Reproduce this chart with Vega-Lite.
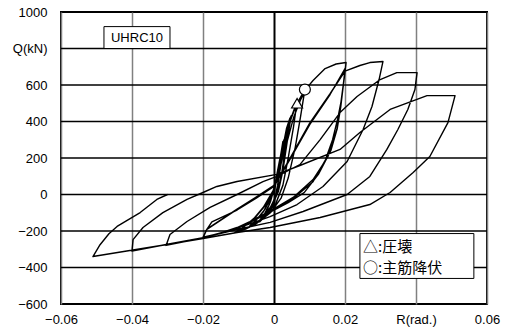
{
  "$schema": "https://vega.github.io/schema/vega-lite/v6.json",
  "width": 426,
  "height": 292,
  "autosize": "none",
  "padding": {"left": 61, "top": 12, "right": 22, "bottom": 32},
  "background": "white",
  "config": {
    "view": {"stroke": "black", "strokeWidth": 2},
    "font": "Liberation Sans"
  },
  "encoding": {
    "x": {
      "field": "R", "type": "quantitative",
      "scale": {"domain": [-0.06, 0.06], "nice": false, "zero": false},
      "axis": {
        "title": null,
        "values": [-0.06, -0.04, -0.02, 0, 0.02, 0.04, 0.06],
        "labelExpr": "abs(datum.value-0.04)<1e-9 ? 'R(rad.)' : (datum.value==0 ? '0' : format(datum.value,'.2f'))",
        "labelFont": "Liberation Sans",
        "labelFontSize": 13,
        "labelColor": "black",
        "labelPadding": 9,
        "labelFlush": false,
        "labelOverlap": false,
        "domain": false,
        "ticks": false,
        "grid": true,
        "gridColor": {"condition": {"test": "datum.value === 0", "value": "black"}, "value": "#808080"},
        "gridWidth": {"condition": {"test": "datum.value === 0", "value": 2}, "value": 1.5},
        "gridOpacity": 1
      }
    },
    "y": {
      "field": "Q", "type": "quantitative",
      "scale": {"domain": [-600, 1000], "nice": false, "zero": false},
      "axis": {
        "title": null,
        "values": [-600, -400, -200, 0, 200, 400, 600, 800, 1000],
        "labelExpr": "datum.value==800 ? 'Q(kN)' : (datum.value==0 ? '0' : format(datum.value,'d'))",
        "labelFont": "Liberation Sans",
        "labelFontSize": 13,
        "labelColor": "black",
        "labelPadding": 14,
        "labelFlush": false,
        "labelOverlap": false,
        "domain": false,
        "ticks": false,
        "grid": false
      }
    }
  },
  "layer": [
    {
      "data": {"values": [
        {"Q": -400, "R": -0.06, "R2": 0.06},
        {"Q": -200, "R": -0.06, "R2": 0.06},
        {"Q": 0, "R": -0.06, "R2": 0.06},
        {"Q": 200, "R": -0.06, "R2": 0.06},
        {"Q": 400, "R": -0.06, "R2": 0.06},
        {"Q": 600, "R": -0.06, "R2": 0.06},
        {"Q": 800, "R": -0.06, "R2": 0.06}
      ]},
      "mark": {"type": "rule", "color": "black", "strokeWidth": 1.4, "opacity": 1},
      "encoding": {
        "x2": {"field": "R2"}
      }
    },
    {
      "data": {"values": [
        {"R":0,"Q":0},{"R":0.001,"Q":120},{"R":0.002,"Q":230},{"R":0.0025,"Q":290},
        {"R":0.0018,"Q":150},{"R":0.001,"Q":40},{"R":0,"Q":-50},{"R":-0.002,"Q":-110},{"R":-0.0035,"Q":-140},
        {"R":-0.0025,"Q":-110},{"R":-0.001,"Q":-40},{"R":0,"Q":30},{"R":0.0015,"Q":180},{"R":0.0028,"Q":300},
        {"R":0.002,"Q":170},{"R":0.001,"Q":50},{"R":0,"Q":-45},{"R":-0.002,"Q":-110},{"R":-0.004,"Q":-150},
        {"R":-0.003,"Q":-120},{"R":-0.0015,"Q":-60},{"R":0,"Q":25},{"R":0.002,"Q":210},{"R":0.0035,"Q":360},{"R":0.0045,"Q":420},
        {"R":0.0035,"Q":290},{"R":0.0022,"Q":120},{"R":0.001,"Q":10},{"R":-0.001,"Q":-70},{"R":-0.004,"Q":-140},{"R":-0.007,"Q":-175},
        {"R":-0.005,"Q":-140},{"R":-0.0025,"Q":-80},{"R":-0.001,"Q":-20},{"R":0.0005,"Q":60},{"R":0.002,"Q":200},{"R":0.0035,"Q":340},{"R":0.0048,"Q":430},
        {"R":0.0038,"Q":300},{"R":0.0025,"Q":130},{"R":0.0012,"Q":15},{"R":-0.001,"Q":-80},{"R":-0.004,"Q":-145},{"R":-0.0075,"Q":-185},
        {"R":-0.0055,"Q":-150},{"R":-0.003,"Q":-95},{"R":-0.001,"Q":-20},{"R":0.001,"Q":90},{"R":0.003,"Q":280},{"R":0.005,"Q":430},{"R":0.0065,"Q":510},
        {"R":0.0055,"Q":370},{"R":0.004,"Q":200},{"R":0.0025,"Q":50},{"R":0.0005,"Q":-50},{"R":-0.003,"Q":-130},{"R":-0.007,"Q":-180},{"R":-0.01,"Q":-200},
        {"R":-0.008,"Q":-170},{"R":-0.005,"Q":-120},{"R":-0.002,"Q":-50},{"R":0,"Q":20},{"R":0.002,"Q":170},{"R":0.0045,"Q":400},{"R":0.0065,"Q":500},{"R":0.0087,"Q":575},
        {"R":0.0075,"Q":430},{"R":0.006,"Q":260},{"R":0.004,"Q":90},{"R":0.002,"Q":-20},{"R":-0.001,"Q":-100},{"R":-0.005,"Q":-160},{"R":-0.008,"Q":-190},{"R":-0.011,"Q":-208},
        {"R":-0.009,"Q":-185},{"R":-0.006,"Q":-140},{"R":-0.003,"Q":-70},{"R":0,"Q":30},{"R":0.003,"Q":240},{"R":0.0055,"Q":420},{"R":0.0075,"Q":520},{"R":0.0095,"Q":590},{"R":0.011,"Q":625},{"R":0.0144,"Q":690},{"R":0.0175,"Q":715},{"R":0.0203,"Q":723},
        {"R":0.0198,"Q":640},{"R":0.019,"Q":520},{"R":0.018,"Q":420},{"R":0.0165,"Q":300},{"R":0.0145,"Q":190},{"R":0.011,"Q":70},{"R":0.0055,"Q":-20},{"R":0,"Q":-80},{"R":-0.0068,"Q":-150},{"R":-0.0104,"Q":-182},{"R":-0.015,"Q":-210},{"R":-0.02,"Q":-236},
        {"R":-0.0192,"Q":-200},{"R":-0.0175,"Q":-150},{"R":-0.0104,"Q":-85},{"R":-0.005,"Q":-20},{"R":0,"Q":44},{"R":0.0045,"Q":192},{"R":0.0101,"Q":384},{"R":0.0158,"Q":548},{"R":0.02,"Q":690},
        {"R":0.0196,"Q":610},{"R":0.0188,"Q":480},{"R":0.0178,"Q":360},{"R":0.016,"Q":240},{"R":0.0125,"Q":110},{"R":0.0085,"Q":10},{"R":0.004,"Q":-45},{"R":0,"Q":-85},{"R":-0.007,"Q":-155},{"R":-0.0105,"Q":-185},{"R":-0.015,"Q":-212},{"R":-0.02,"Q":-234},
        {"R":-0.0189,"Q":-192},{"R":-0.0104,"Q":-82},{"R":0,"Q":50},{"R":0.0045,"Q":195},{"R":0.0101,"Q":390},{"R":0.0158,"Q":550},{"R":0.02,"Q":680},
        {"R":0.0195,"Q":600},{"R":0.0186,"Q":466},{"R":0.0177,"Q":356},{"R":0.0152,"Q":208},{"R":0.011,"Q":82},{"R":0.0054,"Q":-16},{"R":-0.0003,"Q":-82},{"R":-0.0068,"Q":-148},{"R":-0.0104,"Q":-181},{"R":-0.015,"Q":-210},{"R":-0.02,"Q":-238},
        {"R":-0.0189,"Q":-190},{"R":-0.0104,"Q":-80},{"R":0,"Q":48},{"R":0.0045,"Q":198},{"R":0.0101,"Q":392},{"R":0.0158,"Q":552},{"R":0.02,"Q":676},{"R":0.0242,"Q":707},{"R":0.027,"Q":723},{"R":0.0307,"Q":729},
        {"R":0.0296,"Q":630},{"R":0.0276,"Q":482},{"R":0.0251,"Q":356},{"R":0.0206,"Q":181},{"R":0.0138,"Q":44},{"R":0.0065,"Q":-55},{"R":-0.0011,"Q":-121},{"R":-0.0104,"Q":-186},{"R":-0.02,"Q":-236},{"R":-0.0251,"Q":-258},{"R":-0.0304,"Q":-279},
        {"R":-0.0293,"Q":-219},{"R":-0.0245,"Q":-148},{"R":-0.018,"Q":-71},{"R":-0.0104,"Q":0},{"R":-0.0031,"Q":71},{"R":0.0008,"Q":99},{"R":0.0073,"Q":164},{"R":0.013,"Q":301},{"R":0.0186,"Q":449},{"R":0.0234,"Q":537},{"R":0.0299,"Q":630},{"R":0.0346,"Q":668},{"R":0.0403,"Q":668},
        {"R":0.0397,"Q":575},{"R":0.0377,"Q":466},{"R":0.0349,"Q":356},{"R":0.0318,"Q":247},{"R":0.027,"Q":99},{"R":0.0206,"Q":0},{"R":0.0082,"Q":-93},{"R":-0.0011,"Q":-153},{"R":-0.0104,"Q":-192},{"R":-0.02,"Q":-236},{"R":-0.0304,"Q":-274},{"R":-0.04,"Q":-310},
        {"R":-0.0397,"Q":-247},{"R":-0.0369,"Q":-181},{"R":-0.0313,"Q":-99},{"R":-0.0245,"Q":-27},{"R":-0.02,"Q":11},{"R":-0.0161,"Q":44},{"R":-0.0104,"Q":71},{"R":0.0008,"Q":110},{"R":0.0073,"Q":159},{"R":0.0186,"Q":247},{"R":0.0242,"Q":340},{"R":0.0327,"Q":466},{"R":0.0431,"Q":542},{"R":0.051,"Q":542},
        {"R":0.049,"Q":394},{"R":0.0439,"Q":208},{"R":0.0392,"Q":121},{"R":0.0327,"Q":11},{"R":0.027,"Q":-55},{"R":0.013,"Q":-126},{"R":-0.0011,"Q":-181},{"R":-0.0104,"Q":-208},{"R":-0.02,"Q":-241},{"R":-0.0301,"Q":-274},{"R":-0.0406,"Q":-307},{"R":-0.051,"Q":-340},
        {"R":-0.049,"Q":-275},{"R":-0.0465,"Q":-215},{"R":-0.0442,"Q":-175},{"R":-0.0377,"Q":-99},{"R":-0.033,"Q":-27},{"R":-0.03,"Q":0}
      ]},
      "mark": {"type": "line", "color": "black", "strokeWidth": 1.4, "strokeJoin": "round"},
      "encoding": {
        "order": {"value": null}
      }
    },
    {
      "data": {"values": [
        {"R": 0.0065, "Q": 500, "shape": "triangle-up"},
        {"R": 0.0087, "Q": 575, "shape": "circle"}
      ]},
      "mark": {"type": "point", "filled": true, "fill": "white", "stroke": "black", "strokeWidth": 1.2, "size": 120, "opacity": 1},
      "encoding": {
        "shape": {"field": "shape", "type": "nominal", "scale": null, "legend": null}
      }
    },
    {
      "data": {"values": [
        {"R": -0.0479, "R2": -0.0293, "Q": 800, "Q2": 920},
        {"R": 0.0242, "R2": 0.0563, "Q": -460, "Q2": -214}
      ]},
      "mark": {"type": "rect", "fill": "white", "stroke": "black", "strokeWidth": 1},
      "encoding": {
        "x2": {"field": "R2"},
        "y2": {"field": "Q2"}
      }
    },
    {
      "data": {"values": [
        {"R": -0.0386, "Q": 860, "t": "UHRC10"}
      ]},
      "mark": {"type": "text", "font": "Liberation Sans", "fontSize": 13, "color": "black", "align": "center", "baseline": "middle"},
      "encoding": {
        "text": {"field": "t"}
      }
    },
    {
      "data": {"values": [
        {"R": 0.0251, "Q": -290, "t": "△:圧壊"},
        {"R": 0.0251, "Q": -400, "t": "○:主筋降伏"}
      ]},
      "mark": {"type": "text", "font": "Noto Sans CJK JP", "fontSize": 15, "color": "black", "align": "left", "baseline": "middle"},
      "encoding": {
        "text": {"field": "t"}
      }
    }
  ]
}
